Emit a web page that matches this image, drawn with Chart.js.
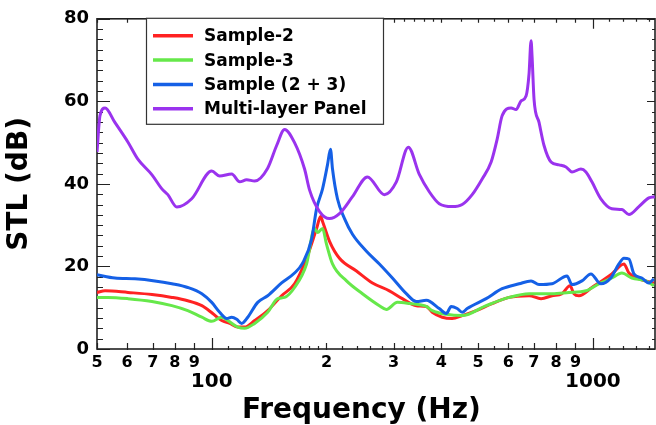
<!DOCTYPE html>
<html>
<head>
<meta charset="utf-8">
<script src="https://cdn.jsdelivr.net/npm/chart.js@4"></script>
<style>
  html, body { margin: 0; padding: 0; background: #fff; }
  #wrap { width: 656px; height: 425px; position: relative; }
</style>
</head>
<body>
<div id="wrap"><canvas id="stlChart"></canvas></div>
<script>
// values (frequency in Hz, STL in dB)
const sample2Freq = [50, 52.5, 60.3, 69.7, 78.6, 86.5, 94.2, 100.6, 106.2, 111.5, 117, 122, 129.6, 140.2, 152.5, 164.9, 177.3, 188.4, 193, 195.3, 203.7, 216.3, 239.7, 264, 292.4, 316.2, 344.1, 365.5, 378.9, 402.4, 427.4, 454, 494, 544, 602.7, 680, 731, 781.1, 829.6, 870.5, 891.8, 919, 993.8, 1121, 1206, 1243, 1320, 1445];
const sample2Stl = [13.7, 14.1, 13.7, 13.2, 12.5, 11.7, 10.5, 8.6, 6.9, 6.2, 5.3, 5.3, 6.9, 9.3, 12.9, 15.8, 22, 29.2, 32.1, 30.9, 26.1, 22, 18.9, 16, 14.1, 12.2, 10.5, 10.3, 8.9, 7.7, 7.4, 8.1, 9.3, 11, 12.5, 12.9, 12.2, 12.9, 13.4, 15.3, 13.4, 12.9, 14.9, 18.2, 20.6, 18.4, 17, 16];

const sample3Freq = [50, 53.4, 60.3, 69.7, 78.6, 86.5, 94.2, 100, 106.2, 110.1, 117, 122, 129.6, 140.2, 148.9, 155.3, 164.9, 177.3, 186.1, 189.5, 195.3, 200, 207.4, 225.7, 248.5, 275.3, 287.2, 306.9, 329.9, 365.5, 378.9, 412.3, 454, 524.7, 602.7, 680, 781.1, 865, 958.6, 1037, 1121, 1191, 1265, 1377, 1445];
const sample3Stl = [12.5, 12.5, 12.2, 11.5, 10.5, 9.3, 7.7, 6.7, 7.7, 6.9, 5.3, 5.0, 6.2, 8.9, 12.2, 12.5, 14.9, 20.6, 29.2, 28.2, 29.2, 25.4, 20.6, 16.5, 13.4, 10.5, 9.6, 11.3, 11.0, 10.3, 9.3, 8.4, 8.1, 10.5, 12.5, 13.4, 13.4, 13.7, 14.1, 15.8, 17.2, 18.4, 17.2, 16.5, 15.3];

const sample23Freq = [50, 55.7, 62.9, 70.9, 78.6, 86.5, 94.2, 100, 104.9, 109.5, 112.8, 116.3, 119.8, 124.3, 132, 140.2, 152.5, 164.9, 173.1, 182.7, 188.4, 195.3, 201.2, 204.9, 207.4, 213.7, 223, 234, 254.6, 275.3, 297.8, 323.9, 344.1, 365.5, 395.2, 412.3, 424.9, 440.5, 454, 467.9, 524.7, 577.8, 640.2, 688.2, 722.2, 781.1, 855, 881.1, 935.8, 987.9, 1049, 1114, 1170, 1206, 1243, 1281, 1344, 1402, 1445];
const sample23Stl = [18, 17.2, 17, 16.5, 15.8, 14.9, 13.4, 11.3, 8.9, 7.4, 7.7, 7.2, 6.2, 7.7, 11.3, 12.9, 16, 18.4, 20.8, 26.5, 34, 38.8, 44.6, 48.4, 43.6, 36.4, 31.6, 27.8, 23.7, 20.6, 17.2, 13.4, 11.5, 11.8, 9.8, 8.6, 10.3, 9.8, 8.9, 9.8, 12.2, 14.6, 15.8, 16.5, 15.6, 15.8, 17.7, 15.6, 16.5, 18.2, 15.8, 17.2, 20.6, 22, 21.8, 18.2, 17.2, 16, 17];

const panelFreq = [50, 50.9, 52.5, 55.7, 60.3, 64, 69.7, 74, 76.7, 81, 88.6, 100, 104.9, 112.8, 118.4, 123.5, 129.6, 140.2, 148, 155.3, 164.9, 175.2, 180.6, 191.8, 203.7, 216.3, 234, 256.1, 283.8, 305, 327.9, 350.4, 372.1, 395.2, 427.4, 454, 482.2, 512.2, 540.7, 560.6, 577.8, 610, 628.6, 647.9, 667.7, 680, 688.2, 692.4, 700.8, 722.2, 744.3, 776.4, 814.7, 849.9, 881.1, 930.2, 958.6, 993.8, 1049, 1121, 1191, 1243, 1320, 1402, 1453];
const panelStl = [47.7, 56.5, 58.4, 54.9, 50.1, 46, 42.2, 38.8, 37.4, 34.4, 36.4, 43.1, 41.9, 42.4, 40.5, 41, 40.7, 43.8, 49.3, 53.2, 50, 43.6, 38.5, 33.3, 31.6, 32.8, 36.9, 41.7, 37.4, 40.5, 48.9, 42.3, 38.1, 35.2, 34.5, 35, 37.4, 41.2, 45.3, 50.8, 56.5, 58.4, 58, 60.1, 61.3, 66.8, 74.7, 70.9, 60.4, 54.9, 49.3, 45.3, 44.6, 44.1, 42.9, 43.6, 42.9, 40.5, 36.4, 34, 33.8, 32.6, 34.5, 36.6, 36.9];

// x axis ticks: labelled ones, then the small unlabelled ones
const xTickValues = [50, 60, 70, 80, 90, 100, 200, 300, 400, 500, 600, 700, 800, 900, 1000];
const xTickLabels = ['5', '6', '7', '8', '9', ['', '100'], '2', '3', '4', '5', '6', '7', '8', '9', ['', '1000']];
const xMinorTicks = [110, 120, 130, 140, 150, 160, 170, 180, 190, 220, 240, 260, 280, 320, 340, 360, 380, 450, 550, 650, 1100, 1200, 1300, 1400];
const yMinorStep = 2.5;

const FONT = "'DejaVu Sans', sans-serif";

function toPoints(freqs, vals) {
    return freqs.map((f, i) => ({ x: f, y: vals[i] }));
}

// frame + inside tick marks, drawn from the chart's own scales
const frameTicks = {
    id: 'frameTicks',
    beforeDatasetsDraw(chart) {
        const { ctx, chartArea: a, scales: { x, y } } = chart;
        ctx.save();
        ctx.strokeStyle = '#222';
        ctx.lineWidth = 1.2;
        ctx.beginPath();
        const xTick = (v, up, down, topLen) => {
            const px = Math.round(x.getPixelForValue(v)) + 0.5;
            ctx.moveTo(px, a.bottom - up);
            ctx.lineTo(px, a.bottom + down);
            ctx.moveTo(px, a.top);
            ctx.lineTo(px, a.top + topLen);
        };
        xTickValues.forEach(v => {
            if (v === 100 || v === 1000) xTick(v, 11, 1, 10);
            else xTick(v, 6, 1, 4);
        });
        xMinorTicks.forEach(v => xTick(v, 3, 1, 3));
        for (let v = 0; v <= 80; v += yMinorStep) {
            const py = Math.round(y.getPixelForValue(v)) + 0.5;
            const major = v % 20 === 0;
            ctx.moveTo(a.left, py);
            ctx.lineTo(a.left + (major ? 13 : 6), py);
            ctx.moveTo(a.right, py);
            ctx.lineTo(a.right - (major ? 8 : 3), py);
        }
        ctx.stroke();
        ctx.lineWidth = 1.6;
        ctx.strokeRect(a.left, a.top, a.right - a.left, a.bottom - a.top);
        ctx.restore();
    }
};

// boxed legend sitting over the top axis
const boxLegend = {
    id: 'boxLegend',
    afterDraw(chart) {
        const { ctx, chartArea: a } = chart;
        const left = a.left + 49, top = a.top - 1, w = 237, h = 106;
        ctx.save();
        ctx.fillStyle = '#fff';
        ctx.fillRect(left, top, w, h);
        ctx.strokeStyle = '#333';
        ctx.lineWidth = 1.2;
        ctx.strokeRect(left + 0.5, top + 0.5, w, h);
        ctx.font = 'bold 17px ' + FONT;
        ctx.textBaseline = 'middle';
        chart.data.datasets.forEach((ds, i) => {
            const cy = top + 18 + i * 24.3;
            ctx.strokeStyle = ds.borderColor;
            ctx.lineWidth = 3.5;
            ctx.beginPath();
            ctx.moveTo(left + 7, cy);
            ctx.lineTo(left + 47, cy);
            ctx.stroke();
            ctx.fillStyle = '#000';
            ctx.fillText(ds.label, left + 58, cy + 1);
        });
        ctx.restore();
    }
};

const ctx = document.getElementById('stlChart').getContext('2d');
const stlChart = new Chart(ctx, {
    type: 'line',
    data: {
        datasets: [
            { label: 'Sample-2', data: toPoints(sample2Freq, sample2Stl), borderColor: '#ff2222', order: 3 },
            { label: 'Sample-3', data: toPoints(sample3Freq, sample3Stl), borderColor: '#66e84a', order: 2 },
            { label: 'Sample (2 + 3)', data: toPoints(sample23Freq, sample23Stl), borderColor: '#1560e6', order: 1 },
            { label: 'Multi-layer Panel', data: toPoints(panelFreq, panelStl), borderColor: '#9a33ee', order: 0 }
        ]
    },
    options: {
        responsive: true,
        maintainAspectRatio: false,
        animation: false,
        layout: { padding: { top: 15, right: 1, left: 0, bottom: 0 } },
        elements: {
            point: { radius: 0 },
            line: { borderWidth: 3, cubicInterpolationMode: 'monotone', borderJoinStyle: 'round', fill: false }
        },
        plugins: {
            legend: { display: false },
            tooltip: { enabled: false }
        },
        scales: {
            x: {
                type: 'logarithmic',
                min: 50,
                max: 1455,
                afterBuildTicks: s => { s.ticks = xTickValues.map(v => ({ value: v })); },
                afterFit: s => { s.height = 76; },
                grid: { display: false, drawTicks: false },
                border: { display: false },
                ticks: {
                    autoSkip: false,
                    maxRotation: 0,
                    padding: 6,
                    color: '#000',
                    font: c => (c.tick && (c.tick.value === 100 || c.tick.value === 1000))
                        ? { family: FONT, size: 20, weight: 'bold', lineHeight: 0.9 }
                        : { family: FONT, size: 16, weight: 'bold', lineHeight: 1 },
                    callback: (v, i) => xTickLabels[i]
                },
                title: {
                    display: true,
                    // trailing spaces nudge the centred title left, as in the original
                    text: 'Frequency (Hz)   ',
                    color: '#000',
                    font: { family: FONT, size: 28, weight: 'bold', lineHeight: 1 },
                    padding: { top: 0, bottom: 0 }
                }
            },
            y: {
                min: 0,
                max: 80,
                afterFit: s => { s.width = 97; },
                grid: { display: false, drawTicks: false },
                border: { display: false },
                ticks: {
                    stepSize: 20,
                    padding: 8,
                    color: '#000',
                    font: { family: FONT, size: 18, weight: 'bold' }
                },
                title: {
                    display: true,
                    text: 'STL (dB)',
                    color: '#000',
                    font: { family: FONT, size: 28, weight: 'bold', lineHeight: 1 },
                    padding: { top: 6, bottom: 0 }
                }
            }
        }
    },
    plugins: [frameTicks, boxLegend]
});
</script>
</body>
</html>
